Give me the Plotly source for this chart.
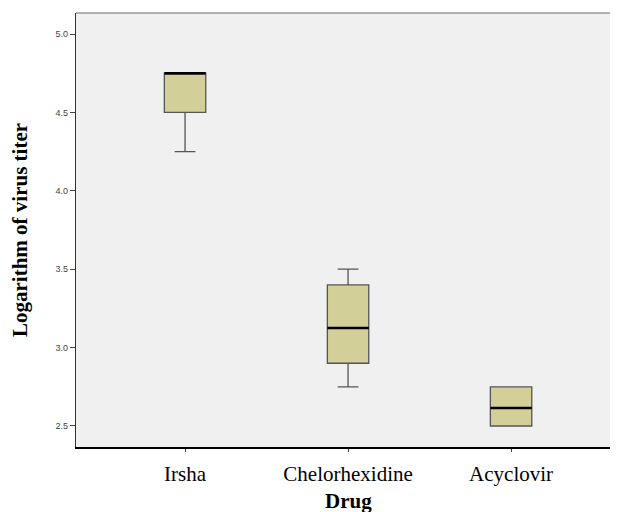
import plotly.graph_objects as go

drugs = ["Irsha", "Chelorhexidine", "Acyclovir"]
lower_whisker = [4.25, 2.75, 2.50]
q1 = [4.50, 2.90, 2.50]
median = [4.75, 3.125, 2.615]
q3 = [4.75, 3.40, 2.75]
upper_whisker = [4.75, 3.50, 2.75]
y_ticks = [2.5, 3.0, 3.5, 4.0, 4.5, 5.0]

pos = list(range(len(drugs)))
box_half = 0.127

fig = go.Figure()
fig.add_trace(go.Box(
    x=pos, q1=q1, median=median, q3=q3,
    lowerfence=lower_whisker, upperfence=upper_whisker,
    fillcolor="#D3CF98",
    line=dict(color="#555555", width=1.3),
    width=2 * box_half, whiskerwidth=0.5,
    boxpoints=False, showlegend=False, hoverinfo="skip",
))
for p, m in zip(pos, median):
    fig.add_trace(go.Scatter(
        x=[p - box_half, p + box_half], y=[m, m], mode="lines",
        line=dict(color="black", width=2.5), showlegend=False, hoverinfo="skip",
    ))

fig.update_layout(
    width=618, height=504,
    margin=dict(l=68, r=0, t=5, b=65),
    paper_bgcolor="white", plot_bgcolor="#F0F0F0",
    xaxis=dict(
        range=[-0.669, 2.656 + 8 / 163], tickvals=pos, ticktext=drugs,
        showgrid=False, zeroline=False,
        showline=True, linecolor="black", linewidth=1.5,
        ticks="outside", ticklen=3, tickcolor="#444444",
        ticklabelstandoff=4,
        tickfont=dict(family="Liberation Serif", size=21, color="black"),
        automargin=False,
    ),
    yaxis=dict(
        range=[2.366, 5.134], tickvals=y_ticks, ticktext=[f"{v:.1f}" for v in y_ticks],
        showgrid=False, zeroline=False,
        showline=True, linecolor="#333333", linewidth=1.2,
        ticks="outside", ticklen=5, tickcolor="#444444",
        tickfont=dict(family="Liberation Sans", size=9, color="#444444"),
        title=dict(text="<b>Logarithm of virus titer</b>", standoff=24,
                   font=dict(family="Liberation Serif", size=21, color="black")),
    ),
    annotations=[dict(text="<b>Drug</b>", x=1, xref="x", y=0, yref="paper",
                      xanchor="center", yanchor="top", yshift=-40, showarrow=False,
                      font=dict(family="Liberation Serif", size=21, color="black"))],
    shapes=[dict(type="line", xref="paper", yref="paper", x0=0, x1=1, y0=1, y1=1,
                 line=dict(color="#999999", width=1.5))],
)

fig.write_html("out.html")
